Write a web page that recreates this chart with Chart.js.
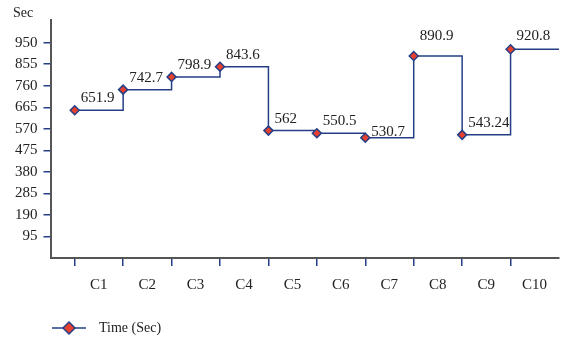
<!DOCTYPE html>
<html>
<head>
<meta charset="utf-8">
<script src="https://cdn.jsdelivr.net/npm/chart.js@4"></script>
<style>
  html, body { margin: 0; padding: 0; background: #fff; }
  #wrap { width: 565px; height: 339px; }
</style>
</head>
<body>
<div id="wrap"><canvas id="chart"></canvas></div>
<script>
// Chart data
const categories = ["C1", "C2", "C3", "C4", "C5", "C6", "C7", "C8", "C9", "C10"];
const timeSec = [651.9, 742.7, 798.9, 843.6, 562, 550.5, 530.7, 890.9, 543.24, 920.8];
const yTicks = [95, 190, 285, 380, 475, 570, 665, 760, 855, 950];
const seriesName = "Time (Sec)";

const navy = "#243f86";
const red = "#e8402f";
const font = "'Liberation Serif', 'DejaVu Serif', serif";

// points at index positions, plus a tail that carries the last value to the edge
const points = timeSec.map((v, i) => ({ x: i, y: v }));
points.push({ x: categories.length, y: timeSec[timeSec.length - 1] });

function diamond(ctx, x, y, r) {
  ctx.beginPath();
  ctx.moveTo(x, y - r);
  ctx.lineTo(x + r, y);
  ctx.lineTo(x, y + r);
  ctx.lineTo(x - r, y);
  ctx.closePath();
  ctx.fillStyle = red;
  ctx.fill();
  ctx.strokeStyle = navy;
  ctx.lineWidth = 1.5;
  ctx.stroke();
}

// value labels, "Sec" title and legend
const extras = {
  id: "extras",
  afterDatasetsDraw(chart) {
    const { ctx, scales } = chart;
    const lift = { 6: 6, 7: 20, 9: 13 };
    ctx.save();
    ctx.font = "15px " + font;
    ctx.fillStyle = "#222";
    ctx.textBaseline = "middle";
    ctx.textAlign = "left";
    timeSec.forEach((v, i) => {
      const px = scales.x.getPixelForValue(i);
      const py = scales.y.getPixelForValue(v);
      ctx.fillText(String(v), px + 6, py - (lift[i] || 12));
    });
    ctx.font = "14px " + font;
    ctx.fillText("Sec", 13, 13);

    // legend
    const ly = 328;
    ctx.strokeStyle = navy;
    ctx.lineWidth = 1.5;
    ctx.beginPath();
    ctx.moveTo(52, ly);
    ctx.lineTo(86, ly);
    ctx.stroke();
    diamond(ctx, 69, ly, 6);
    ctx.fillStyle = "#222";
    ctx.font = "14px " + font;
    ctx.fillText(seriesName, 99, ly);
    ctx.restore();
  },
};

new Chart(document.getElementById("chart"), {
  type: "line",
  data: {
    datasets: [
      {
        label: seriesName,
        data: points,
        stepped: "before",
        borderColor: navy,
        borderWidth: 1.5,
        backgroundColor: red,
        pointStyle: "rectRot",
        pointRadius: (c) => (c.dataIndex < timeSec.length ? 4.5 : 0),
        pointBorderColor: navy,
        pointBorderWidth: 1.5,
        pointBackgroundColor: red,
      },
    ],
  },
  options: {
    responsive: true,
    maintainAspectRatio: false,
    animation: false,
    layout: { padding: { top: 20, right: 2, left: 9, bottom: 35 } },
    plugins: {
      legend: { display: false },
      tooltip: { enabled: false },
    },
    scales: {
      x: {
        type: "linear",
        min: -0.5,
        max: categories.length,
        afterBuildTicks: (axis) => {
          axis.ticks = categories.map((c, i) => ({ value: i }));
        },
        afterFit: (axis) => {
          axis.paddingRight = 0;
        },
        border: { color: "#555", width: 2 },
        grid: { drawOnChartArea: false, drawTicks: true, tickLength: 8, color: navy, lineWidth: 1.5 },
        ticks: {
          color: "#222",
          font: { family: font, size: 15 },
          labelOffset: 24,
          padding: 10,
          maxRotation: 0,
          autoSkip: false,
          callback: (v) => categories[v] || "",
        },
      },
      y: {
        min: 0,
        max: 1050,
        afterBuildTicks: (axis) => {
          axis.ticks = yTicks.map((v) => ({ value: v }));
        },
        border: { color: "#555", width: 2 },
        grid: { drawOnChartArea: false, drawTicks: true, tickLength: 7, color: navy, lineWidth: 1.5 },
        ticks: {
          color: "#222",
          font: { family: font, size: 15 },
          padding: 6,
        },
      },
    },
  },
  plugins: [extras],
});
</script>
</body>
</html>
